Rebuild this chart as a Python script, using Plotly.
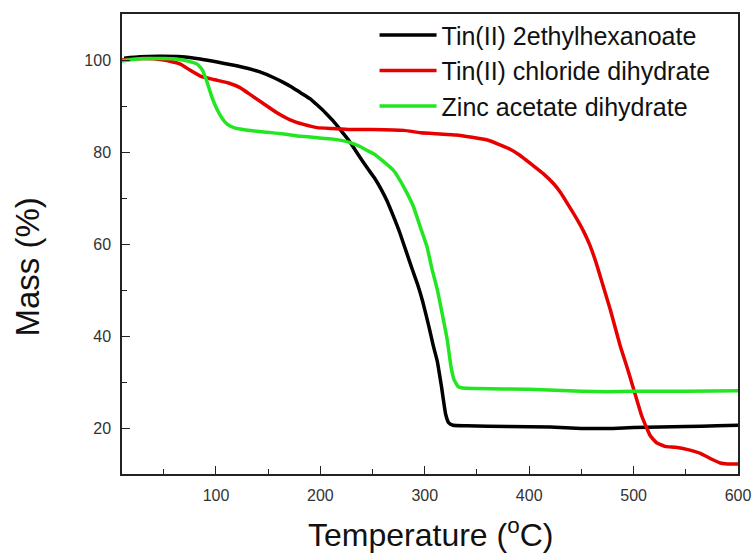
import plotly.graph_objects as go

# Tin(II) 2ethylhexanoate
t_black = [12, 27, 45, 67, 85, 100, 116, 130, 142, 155, 164, 172, 181, 190, 197, 205, 212, 220, 228, 236,
           245, 252, 258, 264, 270, 276, 282, 288, 293, 298, 304, 308, 312, 316, 320, 323, 327, 340, 380, 420,
           450, 480, 500, 550, 580, 600]
m_black = [100.4, 100.7, 100.8, 100.7, 100.2, 99.6, 98.9, 98.2, 97.4, 96.2, 95.2, 94.2, 92.9, 91.6, 90.2,
           88.5, 86.8, 84.6, 82.3, 79.5, 76.5, 74.3, 72.0, 69.3, 66.0, 62.5, 58.5, 54.5, 51.3, 47.5, 42.0,
           38.0, 34.5, 29.0, 23.0, 21.1, 20.6, 20.5, 20.3, 20.2, 19.9, 19.9, 20.1, 20.3, 20.5, 20.6]

# Tin(II) chloride dihydrate
t_red = [10, 30, 50, 60, 66, 75, 85, 95, 101, 112, 123, 134, 145, 158, 171, 184, 197, 212, 228, 250, 280,
         296, 330, 360, 380, 391, 404, 414, 423, 430, 438, 446, 452, 458, 464, 470, 478, 487, 494, 500, 508,
         516, 522, 530, 540, 552, 564, 575, 583, 590, 600]
m_red = [100.0, 100.3, 100.0, 99.5, 99.1, 97.8, 96.5, 95.9, 95.6, 95.0, 94.0, 92.3, 90.6, 88.6, 87.0, 86.0,
         85.3, 85.1, 84.9, 84.9, 84.7, 84.2, 83.7, 82.6, 80.8, 79.3, 77.0, 75.2, 73.2, 71.2, 68.3, 65.3,
         62.8, 59.8, 56.0, 51.5, 45.5, 38.0, 33.0, 28.5, 22.5, 18.3, 16.8, 16.0, 15.8, 15.3, 14.5, 13.2,
         12.4, 12.2, 12.2]

# Zinc acetate dihydrate
t_green = [10, 20, 35, 50, 62, 72, 82, 87, 91.5, 96, 101, 106, 111, 117, 123, 135, 149, 165, 181, 197, 212,
           228, 238, 245, 251, 260, 270, 274, 282, 289, 296, 302, 307, 312, 317, 321.5, 325, 328, 332, 336,
           350, 400, 425, 450, 475, 500, 550, 600]
m_green = [99.8, 100.1, 100.3, 100.3, 100.2, 99.8, 99.1, 97.8, 95.2, 92.0, 89.3, 87.3, 86.0, 85.3, 85.0,
           84.6, 84.3, 83.9, 83.4, 83.1, 82.8, 82.1, 81.2, 80.3, 79.6, 78.0, 76.0, 74.7, 71.5, 68.2, 63.5,
           59.5, 54.5, 50.1, 44.5, 39.2, 33.5, 30.5, 29.0, 28.7, 28.6, 28.4, 28.2, 28.0, 27.9, 28.0, 28.0,
           28.1]

names = ["Tin(II) 2ethylhexanoate", "Tin(II) chloride dihydrate", "Zinc acetate dihydrate"]
colors = ["#000000", "#e60000", "#22e622"]

x_ticks = [100, 200, 300, 400, 500, 600]
y_ticks = [20, 40, 60, 80, 100]

FONT = "Arial, Liberation Sans, sans-serif"

fig = go.Figure()
for t, m, n, c in zip([t_black, t_red, t_green], [m_black, m_red, m_green], names, colors):
    fig.add_trace(go.Scatter(x=t, y=m, mode="lines", name=n,
                             line=dict(color=c, width=3.5, shape="spline", smoothing=0.4)))

axis_common = dict(
    showline=True, linecolor="#222", linewidth=1.5, mirror=True,
    ticks="inside", ticklen=8, tickwidth=1.2, tickcolor="#222",
    showgrid=False, zeroline=False,
    tickfont=dict(family=FONT, size=16, color="#333"),
    ticklabelstandoff=6,
)

fig.update_xaxes(range=[10, 600], tickvals=x_ticks,
                 minor=dict(ticks="inside", ticklen=5, tickcolor="#222", dtick=50, tick0=0, showgrid=False),
                 **axis_common)
fig.update_yaxes(range=[10, 110], tickvals=y_ticks,
                 minor=dict(ticks="inside", ticklen=5, tickcolor="#222", dtick=10, tick0=0, showgrid=False),
                 **axis_common)

fig.add_annotation(text="Mass (%)", xref="paper", yref="paper", x=-0.155, y=0.45,
                   textangle=-90, showarrow=False, xanchor="center", yanchor="middle",
                   font=dict(family=FONT, size=33, color="#111"))
fig.add_annotation(text="Temperature (<sup>o</sup>C)", xref="paper", yref="paper", x=0.5, y=-0.128,
                   showarrow=False, xanchor="center", yanchor="middle",
                   font=dict(family=FONT, size=32, color="#111"))

fig.update_layout(
    width=755, height=556,
    margin=dict(l=122, r=17, t=14, b=82, autoexpand=False),
    paper_bgcolor="white", plot_bgcolor="white",
    showlegend=True,
    legend=dict(x=0.41, y=1.004, xanchor="left", yanchor="top",
                font=dict(family=FONT, size=25, color="#111"),
                bgcolor="rgba(0,0,0,0)", borderwidth=0, itemwidth=57,
                tracegroupgap=0),
)

fig.write_html("out.html")
